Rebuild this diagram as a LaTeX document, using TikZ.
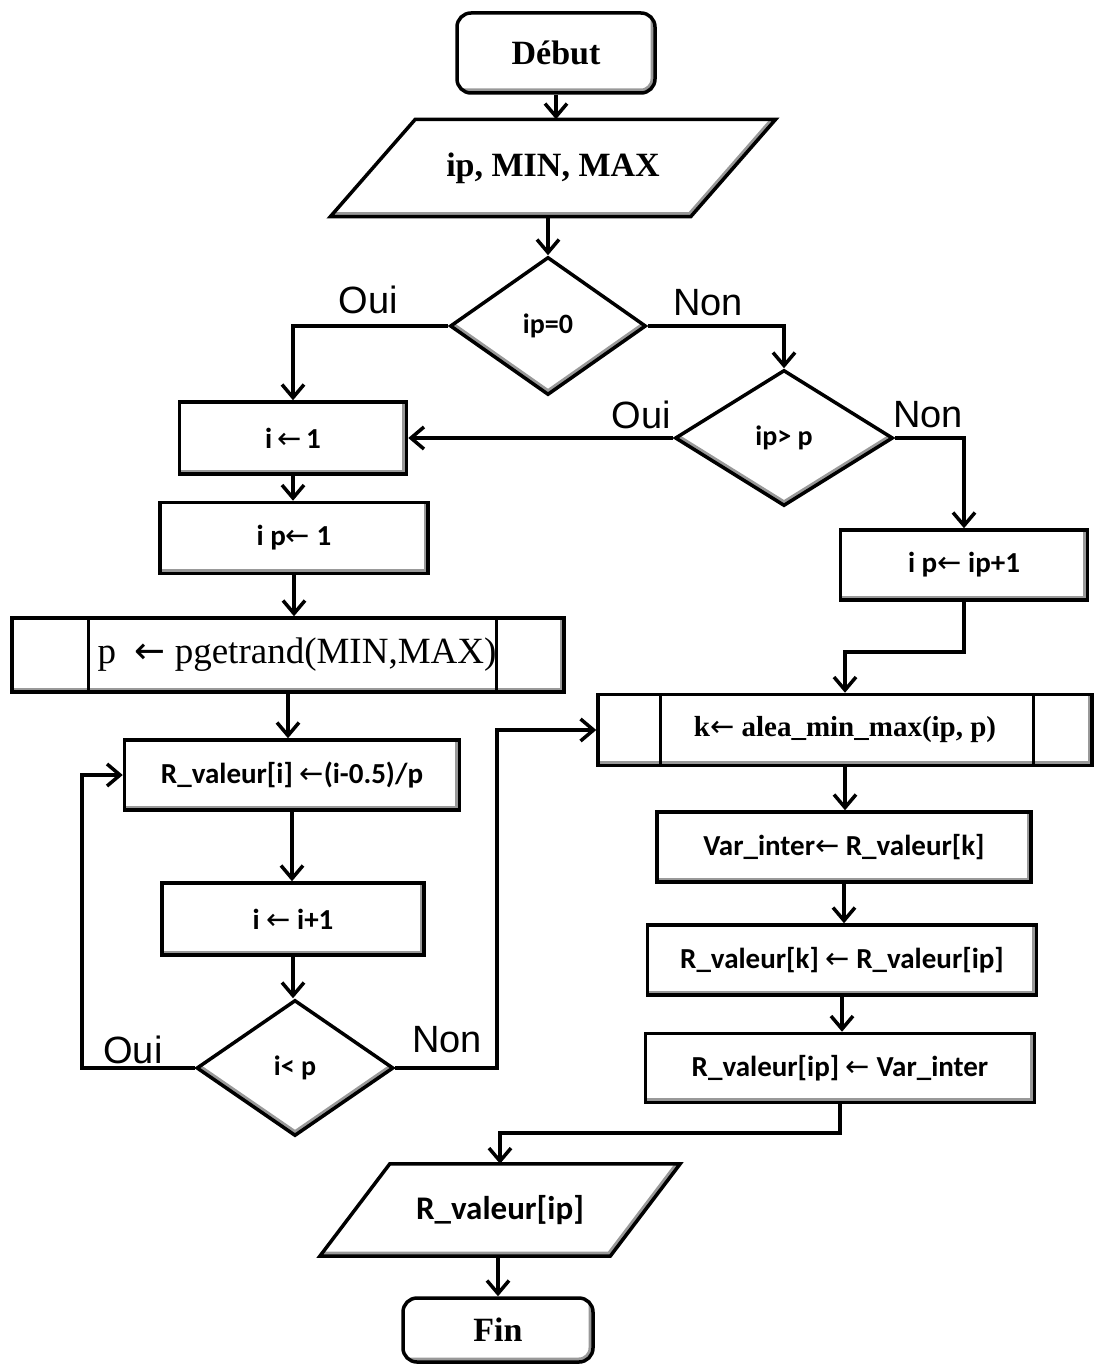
\documentclass[tikz,border=0pt]{standalone}
\usepackage{fontspec}
\setmainfont{Liberation Serif}
\newfontfamily\carl{Carlito}
\newfontfamily\lsans{Liberation Sans}
\newfontfamily\dvs{DejaVu Sans}
\usetikzlibrary{shapes.geometric,arrows.meta}
\newcommand\flg{{\dvs\mdseries ←}}
\colorlet{bevelgray}{black!40}
\tikzset{
  bevelr/.style={path picture={\draw[bevelgray,line width=9pt]
      (path picture bounding box.south west) -- (path picture bounding box.south east)
      -- (path picture bounding box.north east);}},
  sanstxt/.style={font=\carl\bfseries\fontsize{29}{33}\selectfont},
  serifb/.style={font=\bfseries\fontsize{34}{40}\selectfont},
  lbl/.style={font=\lsans\fontsize{38}{44}\selectfont},
  condtxt/.style={font=\carl\bfseries\fontsize{28}{32}\selectfont},
  term/.style={rectangle, rounded corners=14pt, draw, line width=3.5pt, bevelr, serifb},
  proc/.style={rectangle, draw, line width=3.5pt, bevelr, sanstxt},
  subp/.style 2 args={rectangle, draw, line width=3.5pt,
    path picture={
      \draw[bevelgray,line width=9pt]
        (path picture bounding box.south west) -- (path picture bounding box.south east)
        -- (path picture bounding box.north east);
      \draw[line width=3pt] ([xshift=#1]path picture bounding box.north west)
        -- ([xshift=#1]path picture bounding box.south west);
      \draw[line width=3pt] ([xshift=-#2]path picture bounding box.north east)
        -- ([xshift=-#2]path picture bounding box.south east);}},
  iotext/.style={rectangle, draw=none},
  ioline/.style={line width=3.5pt, line join=miter},
  dec/.style={diamond, draw, line width=3.5pt, aspect=1.4, condtxt,
    path picture={\draw[bevelgray,line width=9pt]
      (path picture bounding box.west) -- (path picture bounding box.south)
      -- (path picture bounding box.east);}},
  arr/.style={line width=3.5pt, -{Straight Barb[length=13pt,width=22pt]}},
  every node/.style={inner sep=0pt}
}
\begin{document}
\begin{tikzpicture}[x=1pt,y=-1pt]
\useasboundingbox (0,0) rectangle (1096,1367);

% start and input
\node[term, minimum width=198pt, minimum height=80pt] (debut) at (556,53) {Début};
\node[iotext, serifb, minimum width=445pt, minimum height=97pt] (in) at (553,168) {ip, MIN, MAX};
\begin{scope}
  \clip (in.south west) -- ([xshift=-85pt]in.south east) -- (in.north east)
        -- ([xshift=85pt]in.north west) -- cycle;
  \draw[bevelgray, line width=9pt] (in.south west) -- ([xshift=-85pt]in.south east) -- (in.north east);
\end{scope}
\draw[ioline] (in.south west) -- ([xshift=-85pt]in.south east) -- (in.north east)
      -- ([xshift=85pt]in.north west) -- cycle;

% tests on ip
\node[dec, minimum width=196pt, minimum height=138pt] (d1) at (548,326) {ip=0};
\node[dec, minimum width=218pt, minimum height=136pt] (d2) at (784,438) {ip> p};

% left branch: initialisation
\node[proc, minimum width=227pt, minimum height=72pt] (i1) at (293,438) {i\,\flg\,1};
\node[proc, minimum width=268pt, minimum height=71pt] (ip1) at (294,538) {i p\flg\ 1};
\node[subp={76pt}{68pt}, font=\fontsize{37}{42}\selectfont,
      minimum width=552pt, minimum height=74pt] (pg) at (288,655) {\hspace*{18pt}p \ \flg\ pgetrand(MIN,MAX)};
\node[proc, minimum width=335pt, minimum height=70pt] (rv) at (292,775) {R\_valeur[i] \flg(i-0.5)/p};
\node[proc, minimum width=262pt, minimum height=72pt] (inc) at (293,919) {i \flg\ i+1};
\node[dec, minimum width=197pt, minimum height=136pt] (d3) at (295,1068) {i< p};

% right branch: swap
\node[proc, minimum width=247pt, minimum height=70pt] (ipp) at (964,565) {i p\flg\ ip+1};
\node[subp={62pt}{59pt}, font=\bfseries\fontsize{29}{34}\selectfont,
      minimum width=494pt, minimum height=71pt] (kb) at (845,730) {k\flg\ alea\_min\_max(ip, p)};
\node[proc, minimum width=374pt, minimum height=70pt] (vi) at (844,847) {Var\_inter\flg\ R\_valeur[k]};
\node[proc, minimum width=389pt, minimum height=70pt] (rk) at (842,960) {R\_valeur[k] \flg\ R\_valeur[ip]};
\node[proc, minimum width=389pt, minimum height=69pt] (ri) at (840,1068) {R\_valeur[ip] \flg\ Var\_inter};

% output and end
\node[iotext, font=\carl\bfseries\fontsize{33}{38}\selectfont,
      minimum width=360pt, minimum height=92pt] (out) at (500,1210) {R\_valeur[ip]};
\begin{scope}
  \clip (out.south west) -- ([xshift=-70pt]out.south east) -- (out.north east)
        -- ([xshift=70pt]out.north west) -- cycle;
  \draw[bevelgray, line width=9pt] (out.south west) -- ([xshift=-70pt]out.south east) -- (out.north east);
\end{scope}
\draw[ioline] (out.south west) -- ([xshift=-70pt]out.south east) -- (out.north east)
      -- ([xshift=70pt]out.north west) -- cycle;
\node[term, minimum width=190pt, minimum height=64pt] (fin) at (498,1330) {Fin};

% branch labels
\node[lbl] (oui1) at (368,300) {Oui};
\node[lbl] (non1) at (708,303) {Non};
\node[lbl] (oui2) at (641,415) {Oui};
\node[lbl] (non2) at (928,415) {Non};
\node[lbl] (oui3) at (133,1050) {Oui};
\node[lbl] (non3) at (447,1040) {Non};

% bend points
\coordinate (lx) at (82,900);
\coordinate (rx) at (497,900);
\coordinate (j1) at (900,652);
\coordinate (j2) at (700,1133);

% connectors
\draw[arr] (debut.south) -- (debut.south |- in.north);
\draw[arr] (d1.north |- in.south) -- (d1.north);
\draw[arr] (d1.west) -| (i1.north);
\draw[arr] (d1.east) -| (d2.north);
\draw[arr] (d2.west) -- (i1.east);
\draw[arr] (d2.east) -| (ipp.north);
\draw[arr] (i1.south) -- (i1.south |- ip1.north);
\draw[arr] (ip1.south) -- (ip1.south |- pg.north);
\draw[arr] (pg.south) -- (pg.south |- rv.north);
\draw[arr] (rv.south) -- (rv.south |- inc.north);
\draw[arr] (inc.south) -- (inc.south |- d3.north);
\draw[arr] (d3.west) -| (lx) |- (rv.west);
\draw[arr] (d3.east) -| (rx) |- (kb.west);
\draw[arr] (ipp.south) |- (j1) -| (kb.north);
\draw[arr] (kb.south) -- (kb.south |- vi.north);
\draw[arr] (vi.south) -- (vi.south |- rk.north);
\draw[arr] (rk.south) -- (rk.south |- ri.north);
\draw[arr] (ri.south) |- (j2) -| (out.north);
\draw[arr] (fin.north |- out.south) -- (fin.north);
\end{tikzpicture}
\end{document}
